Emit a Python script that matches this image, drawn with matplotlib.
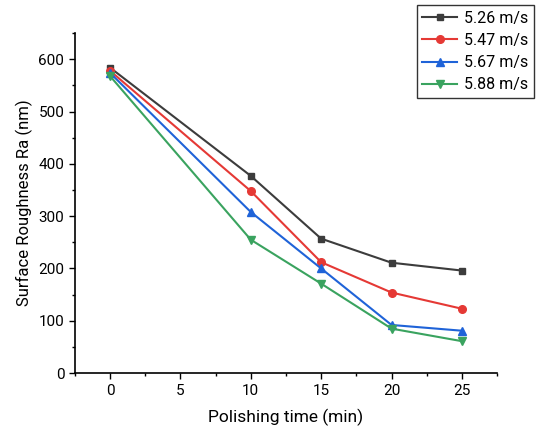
import matplotlib
matplotlib.use('Agg')
from matplotlib import pyplot as plt
from matplotlib.ticker import MultipleLocator

plt.rcParams['font.family'] = ['Roboto', 'DejaVu Sans']

time_min = [0, 10, 15, 20, 25]
labels = ['5.26 m/s', '5.47 m/s', '5.67 m/s', '5.88 m/s']
ra_526 = [584, 377, 257, 211, 196]
ra_547 = [578, 348, 212, 154, 123]
ra_567 = [574, 308, 200, 92, 81]
ra_588 = [568, 255, 171, 85, 61]

series = [ra_526, ra_547, ra_567, ra_588]
colors = ['#3c3c3c', '#e53935', '#1f63d8', '#3aa35f']
markers = ['s', 'o', '^', 'v']
msizes = [5, 5.5, 6, 6]

fig = plt.figure(figsize=(5.38, 4.41), dpi=100)
ax = fig.add_axes([0.139, 0.154, 0.785, 0.771])

lines = []
for vals, lab, c, m, ms in zip(series, labels, colors, markers, msizes):
    ln, = ax.plot(time_min, vals, color=c, marker=m, markersize=ms, linewidth=1.5, label=lab)
    lines.append(ln)

ax.set_xlim(-2.5, 27.5)
ax.set_ylim(0, 650)
ax.xaxis.set_major_locator(MultipleLocator(5))
ax.xaxis.set_minor_locator(MultipleLocator(2.5))
ax.yaxis.set_major_locator(MultipleLocator(100))
ax.yaxis.set_minor_locator(MultipleLocator(50))
ax.tick_params(which='major', direction='out', length=4, width=1, labelsize=11)
ax.tick_params(which='minor', direction='out', length=2.5, width=1)
for side in ['top', 'right']:
    ax.spines[side].set_visible(False)
for side in ['left', 'bottom']:
    ax.spines[side].set_linewidth(1.2)

ax.set_xlabel('Polishing time (min)', fontsize=12.5, labelpad=8)
ax.set_ylabel('Surface Roughness Ra (nm)', fontsize=12, labelpad=4)

leg = fig.legend(handles=lines, loc='upper right', bbox_to_anchor=(0.992, 0.988),
                 fontsize=11.5, frameon=True, fancybox=False, edgecolor='black',
                 handlelength=2.2, borderpad=0.35, labelspacing=0.45, handletextpad=0.4,
                 borderaxespad=0)
leg.get_frame().set_linewidth(1.0)

fig.savefig('out.png', dpi=100)
